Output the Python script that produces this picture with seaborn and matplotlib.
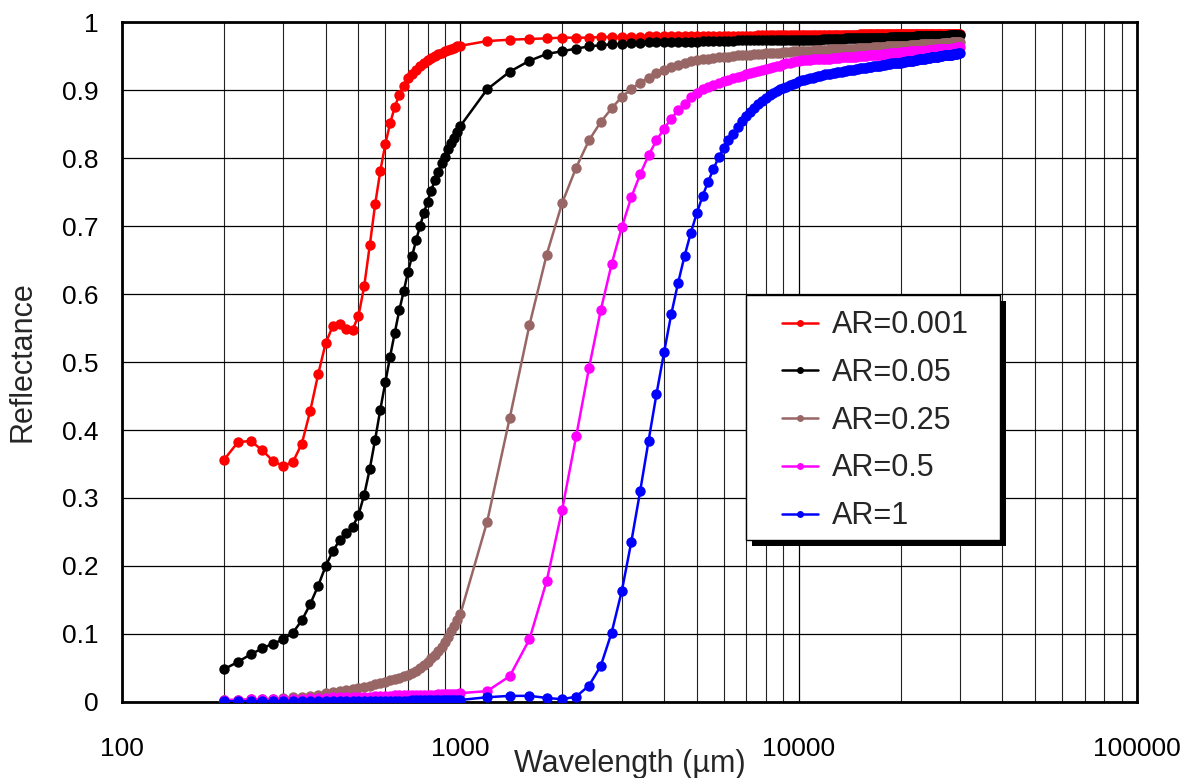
import matplotlib
matplotlib.use("Agg")
import matplotlib.pyplot as plt
import matplotlib.ticker as mticker
from matplotlib.lines import Line2D
from matplotlib.patches import Rectangle
import pandas as pd
import seaborn as sns

# ─── Data ────────────────────────────────────────────────────────────────────
# wavelength grid: 200..1000 step 20, then 1200..30000 step 200
wl_head = list(range(200, 1001, 20))      # 41 points
wl_tail = list(range(1200, 30001, 200))   # 145 points
wavelength = wl_head + wl_tail

series_names = ["AR=0.001", "AR=0.05", "AR=0.25", "AR=0.5", "AR=1"]
colors = ["#FF0000", "#000000", "#996666", "#FF00FF", "#0000FF"]

ar0001 = [
    0.356, 0.382, 0.384, 0.370, 0.354, 0.347, 0.353, 0.380, 0.428, 0.482,
    0.528, 0.553, 0.556, 0.549, 0.547, 0.568, 0.612, 0.672, 0.732, 0.781,
    0.820, 0.851, 0.875, 0.893, 0.906, 0.917, 0.924, 0.930, 0.936, 0.940,
    0.944, 0.947, 0.950, 0.953, 0.955, 0.957, 0.959, 0.961, 0.962, 0.964,
    0.965,
    # 1200-5000
    0.972, 0.974, 0.975, 0.976, 0.977, 0.977, 0.977, 0.978, 0.978, 0.978,
    0.978, 0.978, 0.979, 0.979, 0.979, 0.979, 0.979, 0.979, 0.979, 0.980,
    # 5200-10000
    0.980, 0.980, 0.980, 0.980, 0.980, 0.980, 0.980, 0.980, 0.980, 0.980,
    0.980, 0.980, 0.981, 0.981, 0.981, 0.981, 0.981, 0.981, 0.981, 0.981,
    0.981, 0.981, 0.981, 0.981, 0.981,
    # 10200-20000
    0.981, 0.981, 0.981, 0.981, 0.981, 0.981, 0.981, 0.981, 0.981, 0.981,
    0.981, 0.981, 0.981, 0.981, 0.981, 0.981, 0.981, 0.981, 0.981, 0.981,
    0.981, 0.981, 0.981, 0.981, 0.981, 0.982, 0.982, 0.982, 0.982, 0.982,
    0.982, 0.982, 0.982, 0.982, 0.982, 0.982, 0.982, 0.982, 0.982, 0.982,
    0.982, 0.982, 0.982, 0.982, 0.982, 0.982, 0.982, 0.982, 0.982, 0.982,
    # 20200-30000
    0.982, 0.982, 0.982, 0.982, 0.982, 0.982, 0.982, 0.982, 0.982, 0.982,
    0.982, 0.982, 0.982, 0.982, 0.982, 0.982, 0.982, 0.982, 0.982, 0.982,
    0.982, 0.982, 0.982, 0.982, 0.982, 0.983, 0.983, 0.983, 0.983, 0.983,
    0.983, 0.983, 0.983, 0.983, 0.983, 0.983, 0.983, 0.983, 0.983, 0.983,
    0.983, 0.983, 0.983, 0.983, 0.983, 0.983, 0.983, 0.983, 0.983, 0.983,
]

ar005 = [
    0.048, 0.059, 0.070, 0.079, 0.086, 0.092, 0.102, 0.120, 0.144, 0.171,
    0.200, 0.222, 0.238, 0.248, 0.257, 0.275, 0.305, 0.343, 0.386, 0.430,
    0.470, 0.508, 0.543, 0.576, 0.604, 0.632, 0.656, 0.679, 0.700, 0.719,
    0.736, 0.752, 0.767, 0.780, 0.792, 0.802, 0.813, 0.822, 0.830, 0.838,
    0.847,
    # 1200-5000
    0.901, 0.927, 0.943, 0.953, 0.957, 0.961, 0.964, 0.966, 0.967, 0.968,
    0.969, 0.969, 0.970, 0.970, 0.970, 0.971, 0.971, 0.971, 0.971, 0.971,
    # 5200-10000
    0.972, 0.972, 0.972, 0.972, 0.972, 0.972, 0.972, 0.973, 0.973, 0.973,
    0.973, 0.973, 0.973, 0.973, 0.973, 0.973, 0.973, 0.974, 0.974, 0.974,
    0.974, 0.974, 0.974, 0.974, 0.974,
    # 10200-20000
    0.974, 0.974, 0.974, 0.974, 0.974, 0.974, 0.974, 0.974, 0.975, 0.975,
    0.975, 0.975, 0.975, 0.975, 0.975, 0.975, 0.975, 0.975, 0.976, 0.976,
    0.976, 0.976, 0.976, 0.976, 0.976, 0.976, 0.976, 0.976, 0.976, 0.976,
    0.977, 0.977, 0.977, 0.977, 0.977, 0.977, 0.977, 0.977, 0.977, 0.977,
    0.977, 0.977, 0.978, 0.978, 0.978, 0.978, 0.978, 0.978, 0.978, 0.978,
    # 20200-30000
    0.978, 0.978, 0.978, 0.978, 0.978, 0.978, 0.978, 0.978, 0.978, 0.978,
    0.979, 0.979, 0.979, 0.979, 0.979, 0.979, 0.979, 0.979, 0.979, 0.979,
    0.979, 0.979, 0.979, 0.979, 0.980, 0.980, 0.980, 0.980, 0.980, 0.980,
    0.980, 0.980, 0.980, 0.980, 0.980, 0.980, 0.980, 0.980, 0.981, 0.981,
    0.981, 0.981, 0.981, 0.981, 0.981, 0.981, 0.981, 0.981, 0.981, 0.981,
]

ar025 = [
    0.003, 0.003, 0.004, 0.004, 0.005, 0.006, 0.007, 0.008, 0.009, 0.011,
    0.013, 0.014, 0.016, 0.017, 0.019, 0.020, 0.022, 0.024, 0.026, 0.028,
    0.030, 0.032, 0.034, 0.036, 0.038, 0.040, 0.043, 0.046, 0.050, 0.054,
    0.059, 0.064, 0.069, 0.075, 0.081, 0.088, 0.096, 0.104, 0.112, 0.120,
    0.129,
    # 1200-5000
    0.265, 0.418, 0.554, 0.658, 0.734, 0.786, 0.826, 0.853, 0.873, 0.890,
    0.901, 0.911, 0.918, 0.925, 0.930, 0.934, 0.937, 0.940, 0.942, 0.944,
    # 5200-10000
    0.945, 0.946, 0.947, 0.948, 0.949, 0.949, 0.950, 0.951, 0.951, 0.952,
    0.952, 0.953, 0.953, 0.953, 0.954, 0.954, 0.955, 0.955, 0.955, 0.956,
    0.956, 0.956, 0.957, 0.957, 0.957,
    # 10200-20000
    0.958, 0.958, 0.958, 0.958, 0.958, 0.959, 0.959, 0.959, 0.959, 0.959,
    0.959, 0.960, 0.960, 0.960, 0.960, 0.960, 0.960, 0.961, 0.961, 0.961,
    0.961, 0.961, 0.961, 0.961, 0.962, 0.962, 0.962, 0.962, 0.962, 0.962,
    0.962, 0.962, 0.963, 0.963, 0.963, 0.963, 0.963, 0.963, 0.963, 0.963,
    0.964, 0.964, 0.964, 0.964, 0.964, 0.964, 0.964, 0.965, 0.965, 0.965,
    # 20200-30000
    0.965, 0.965, 0.965, 0.965, 0.965, 0.965, 0.966, 0.966, 0.966, 0.966,
    0.966, 0.966, 0.966, 0.966, 0.967, 0.967, 0.967, 0.967, 0.967, 0.967,
    0.967, 0.967, 0.967, 0.968, 0.968, 0.968, 0.968, 0.968, 0.968, 0.968,
    0.968, 0.968, 0.969, 0.969, 0.969, 0.969, 0.969, 0.969, 0.969, 0.969,
    0.969, 0.970, 0.970, 0.970, 0.970, 0.970, 0.970, 0.970, 0.970, 0.970,
]

ar05 = [
    0.003, 0.003, 0.004, 0.004, 0.004, 0.005, 0.005, 0.005, 0.006, 0.006,
    0.006, 0.007, 0.007, 0.007, 0.008, 0.008, 0.008, 0.008, 0.009, 0.009,
    0.009, 0.009, 0.010, 0.010, 0.010, 0.010, 0.010, 0.011, 0.011, 0.011,
    0.011, 0.011, 0.011, 0.012, 0.012, 0.012, 0.012, 0.012, 0.012, 0.012,
    0.013,
    # 1200-5000
    0.016, 0.038, 0.092, 0.178, 0.283, 0.391, 0.491, 0.576, 0.644, 0.698,
    0.742, 0.776, 0.804, 0.826, 0.843, 0.858, 0.870, 0.880, 0.889, 0.896,
    # 5200-10000
    0.901, 0.905, 0.908, 0.911, 0.913, 0.915, 0.917, 0.919, 0.921, 0.923,
    0.925, 0.926, 0.928, 0.929, 0.931, 0.932, 0.934, 0.935, 0.936, 0.938,
    0.939, 0.940, 0.941, 0.942, 0.943,
    # 10200-20000
    0.944, 0.944, 0.944, 0.944, 0.945, 0.945, 0.945, 0.945, 0.946, 0.946,
    0.946, 0.946, 0.947, 0.947, 0.947, 0.947, 0.948, 0.948, 0.948, 0.948,
    0.949, 0.949, 0.949, 0.949, 0.950, 0.950, 0.950, 0.950, 0.950, 0.951,
    0.951, 0.951, 0.951, 0.951, 0.952, 0.952, 0.952, 0.952, 0.953, 0.953,
    0.953, 0.953, 0.954, 0.954, 0.954, 0.954, 0.955, 0.955, 0.955, 0.955,
    # 20200-30000
    0.956, 0.956, 0.956, 0.956, 0.956, 0.956, 0.957, 0.957, 0.957, 0.957,
    0.957, 0.957, 0.958, 0.958, 0.958, 0.958, 0.958, 0.958, 0.958, 0.959,
    0.959, 0.959, 0.959, 0.959, 0.959, 0.959, 0.960, 0.960, 0.960, 0.960,
    0.960, 0.960, 0.960, 0.960, 0.961, 0.961, 0.961, 0.961, 0.961, 0.961,
    0.961, 0.961, 0.962, 0.962, 0.962, 0.962, 0.963, 0.963, 0.963, 0.963,
]

ar1 = [
    0.001, 0.001, 0.001, 0.001, 0.001, 0.001, 0.001, 0.001, 0.001, 0.001,
    0.001, 0.002, 0.002, 0.002, 0.002, 0.002, 0.002, 0.002, 0.002, 0.002,
    0.002, 0.002, 0.002, 0.002, 0.002, 0.002, 0.003, 0.003, 0.003, 0.003,
    0.003, 0.003, 0.003, 0.003, 0.003, 0.003, 0.003, 0.003, 0.003, 0.003,
    0.003,
    # 1200-5000
    0.007, 0.009, 0.009, 0.006, 0.004, 0.008, 0.024, 0.053, 0.102, 0.163,
    0.235, 0.310, 0.384, 0.453, 0.514, 0.570, 0.616, 0.656, 0.690, 0.719,
    # 5200-10000
    0.744, 0.765, 0.784, 0.801, 0.814, 0.826, 0.836, 0.846, 0.855, 0.862,
    0.868, 0.874, 0.879, 0.884, 0.888, 0.892, 0.895, 0.898, 0.901, 0.903,
    0.905, 0.907, 0.909, 0.911, 0.913,
    # 10200-20000
    0.914, 0.915, 0.916, 0.917, 0.918, 0.919, 0.920, 0.921, 0.922, 0.923,
    0.923, 0.924, 0.925, 0.925, 0.926, 0.927, 0.927, 0.928, 0.928, 0.929,
    0.929, 0.930, 0.930, 0.931, 0.931, 0.932, 0.932, 0.933, 0.933, 0.934,
    0.934, 0.934, 0.935, 0.935, 0.936, 0.936, 0.936, 0.937, 0.937, 0.937,
    0.938, 0.938, 0.938, 0.939, 0.939, 0.939, 0.939, 0.940, 0.940, 0.940,
    # 20200-30000
    0.941, 0.941, 0.941, 0.942, 0.942, 0.942, 0.943, 0.943, 0.943, 0.944,
    0.944, 0.944, 0.945, 0.945, 0.945, 0.946, 0.946, 0.946, 0.947, 0.947,
    0.947, 0.947, 0.948, 0.948, 0.948, 0.949, 0.949, 0.949, 0.949, 0.950,
    0.950, 0.950, 0.950, 0.951, 0.951, 0.951, 0.951, 0.952, 0.952, 0.952,
    0.952, 0.952, 0.953, 0.953, 0.953, 0.953, 0.953, 0.954, 0.954, 0.954,
]

y_ticks = [0, 0.1, 0.2, 0.3, 0.4, 0.5, 0.6, 0.7, 0.8, 0.9, 1]
x_ticks = [100, 1000, 10000, 100000]

# ─── Long table for seaborn ──────────────────────────────────────────────────
frames = []
for name, vals in zip(series_names, [ar0001, ar005, ar025, ar05, ar1]):
    assert len(vals) == len(wavelength), (name, len(vals))
    frames.append(pd.DataFrame({"Wavelength": wavelength,
                                "Reflectance": vals, "Series": name}))
df = pd.concat(frames, ignore_index=True)

# ─── Style ───────────────────────────────────────────────────────────────────
sns.set_style("white")
plt.rcParams["font.family"] = ["Liberation Sans", "DejaVu Sans"]

fig = plt.figure(figsize=(12.01, 7.78), dpi=100)
ax = fig.add_axes([0.1016, 0.0977, 0.8451, 0.874])

sns.lineplot(data=df, x="Wavelength", y="Reflectance", hue="Series",
             hue_order=series_names, palette=colors, marker="o",
             markersize=7.5, markeredgewidth=0, linewidth=1.8,
             estimator=None, sort=False, legend=False, ax=ax, zorder=3)

ax.set_xscale("log")
ax.set_xlim(100, 100000)
ax.set_ylim(0, 1)
ax.set_yticks(y_ticks)
ax.yaxis.set_major_formatter(mticker.FuncFormatter(lambda v, _: f"{v:g}"))
ax.set_xticks(x_ticks)
ax.xaxis.set_major_formatter(mticker.FuncFormatter(lambda v, _: f"{int(v)}"))
ax.xaxis.set_minor_locator(mticker.LogLocator(base=10, subs=range(2, 10)))
ax.xaxis.set_minor_formatter(mticker.NullFormatter())

ax.grid(True, which="major", axis="both", color="black", linewidth=0.9)
ax.grid(True, which="minor", axis="x", color="#222222", linewidth=0.8)
ax.set_axisbelow(True)

ax.tick_params(axis="both", which="major", direction="out", length=5,
               width=1.2, labelsize=19, colors="black")
ax.tick_params(axis="x", which="minor", length=0)
ax.tick_params(axis="x", pad=20)
ax.tick_params(axis="y", pad=12)

for sp in ax.spines.values():
    sp.set_visible(True)
    sp.set_color("black")
    sp.set_linewidth(2.0)

ax.set_xlabel("Wavelength (µm)", fontsize=22)
ax.set_ylabel("Reflectance", fontsize=22)
ax.xaxis.set_label_coords(0.5, -0.069)
ax.yaxis.set_label_coords(-0.083, 0.5)

# ─── Legend: Excel-style box with hard shadow ────────────────────────────────
bx0, by0, bw, bh = 0.6148, 0.2382, 0.2502, 0.3603
ax.add_patch(Rectangle((bx0 + 0.006, by0 - 0.009), bw, bh, transform=ax.transAxes,
                       facecolor="black", edgecolor="none", zorder=5,
                       clip_on=False))
ax.add_patch(Rectangle((bx0, by0), bw, bh, transform=ax.transAxes,
                       facecolor="white", edgecolor="black", linewidth=1.0,
                       zorder=6, clip_on=False))

handles = [Line2D([], [], color=c, marker="o", markersize=5,
                  markeredgewidth=0, linewidth=1.8, label=n)
           for n, c in zip(series_names, colors)]
leg = ax.legend(handles=handles, loc="upper left",
                bbox_to_anchor=(0.650, 0.576), frameon=False,
                fontsize=22, handlelength=1.2, handletextpad=0.45,
                labelspacing=0.58, borderpad=0, borderaxespad=0)
leg.set_zorder(7)

fig.savefig("out.png", dpi=100, facecolor="white")
